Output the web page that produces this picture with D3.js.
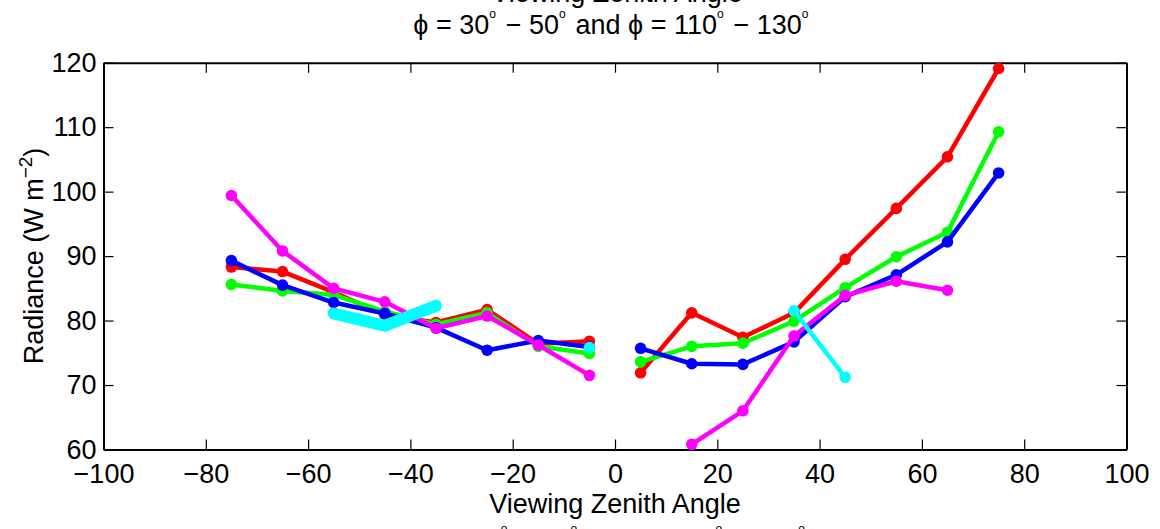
<!DOCTYPE html>
<html>
<head>
<meta charset="utf-8">
<script src="https://cdn.jsdelivr.net/npm/d3@7"></script>
<style>
  body { margin: 0; background: #fff; }
  svg { display: block; }
  text { font-family: "Liberation Sans", Arial, sans-serif; fill: #000; }
</style>
</head>
<body>
<svg id="chart" width="1160" height="529"></svg>
<script>
// Viewing zenith angle bins (degrees); negative = one azimuth sector, positive = the other
const angles = [-75, -65, -55, -45, -35, -25, -15, -5, 5, 15, 25, 35, 45, 55, 65, 75];

// Radiance (W m^-2) for each series, null where no data
const redSeries     = [88.3, 87.6, 84.4, 80.9, 79.7, 81.7, 76.4, 76.8, 71.9, 81.2, 77.4, 81.2, 89.5, 97.4, 105.4, 119.1];
const greenSeries   = [85.6, 84.6, 84.0, 81.4, 79.4, 81.2, 76.0, 74.9, 73.6, 76.0, 76.5, 79.9, 85.1, 89.9, 93.7, 109.3];
const blueSeries    = [89.3, 85.5, 82.8, 81.1, 78.9, 75.4, 76.9, 75.9, 75.7, 73.3, 73.2, 76.7, 83.7, 87.1, 92.2, 102.9];
const magentaSeries = [99.4, 90.8, 85.0, 82.9, 78.8, 80.7, 76.2, 71.5, null, 60.8, 66.0, 77.6, 83.9, 86.1, 84.7, null];
const cyanSeries    = [null, null, null, null, null, null, null, 75.8, null, null, null, 81.5, 71.2, null, null, null];
const cyanBand      = [null, null, 81.1, 79.2, 82.3, null, null, null, null, null, null, null, null, null, null, null];

const xTicks = [-100, -80, -60, -40, -20, 0, 20, 40, 60, 80, 100];
const yTicks = [60, 70, 80, 90, 100, 110, 120];

const svg = d3.select("#chart");
const FONT = 27;

const x = d3.scaleLinear().domain([-100, 100]).range([103.5, 1126.5]);
const y = d3.scaleLinear().domain([60, 120]).range([449.5, 62.7]);

const fmt = d => d3.format("d")(d).replace("-", "\u2212");

// Axes box with inward ticks on all four sides
const gB = svg.append("g").attr("transform", `translate(0,${y(60)})`)
  .call(d3.axisBottom(x).tickValues(xTicks).tickSizeInner(-10).tickSizeOuter(0).tickPadding(14).tickFormat(fmt));
const gT = svg.append("g").attr("transform", `translate(0,${y(120)})`)
  .call(d3.axisTop(x).tickValues(xTicks).tickSizeInner(-10).tickSizeOuter(0).tickFormat(""));
const gL = svg.append("g").attr("transform", `translate(${x(-100)},0)`)
  .call(d3.axisLeft(y).tickValues(yTicks).tickSizeInner(-10).tickSizeOuter(0).tickPadding(7).tickFormat(fmt));
const gR = svg.append("g").attr("transform", `translate(${x(100)},0)`)
  .call(d3.axisRight(y).tickValues(yTicks).tickSizeInner(-10).tickSizeOuter(0).tickFormat(""));

[gB, gT, gL, gR].forEach(g => {
  g.select(".domain").attr("stroke", "#000").attr("stroke-width", 2);
  g.selectAll(".tick line").attr("stroke", "#000").attr("stroke-width", 1.2);
  g.selectAll(".tick text").style("font-size", FONT + "px").attr("fill", "#000")
    .style("font-family", '"Liberation Sans", Arial, sans-serif');
  g.attr("font-size", null).attr("font-family", null);
});

// Data lines: each series is broken at nadir (left and right halves drawn separately)
const line = d3.line().defined(d => d.v != null).x(d => x(d.a)).y(d => y(d.v));
const plot = svg.append("g");

function drawSeries(values, color, width, markers) {
  const pts = angles.map((a, i) => ({ a, v: values[i] }));
  const halves = [pts.filter(p => p.a < 0), pts.filter(p => p.a > 0)];
  halves.forEach(h => {
    plot.append("path").datum(h).attr("d", line)
      .attr("fill", "none").attr("stroke", color).attr("stroke-width", width)
      .attr("stroke-linejoin", "round").attr("stroke-linecap", "round");
  });
  if (markers) {
    plot.append("g").selectAll("circle").data(pts.filter(p => p.v != null)).join("circle")
      .attr("cx", d => x(d.a)).attr("cy", d => y(d.v)).attr("r", 5.8).attr("fill", color);
  }
}

drawSeries(redSeries, "#ff0000", 4.5, true);
drawSeries(greenSeries, "#00ff00", 4.5, true);
drawSeries(blueSeries, "#0000ff", 4.5, true);
drawSeries(magentaSeries, "#ff00ff", 4.5, true);
drawSeries(cyanSeries, "#00ffff", 4.5, true);
drawSeries(cyanBand, "#00ffff", 12, false);

// Text with superscript "o" degree marks
function degreeText(parent, parts, xPos, yPos) {
  const t = parent.append("text").attr("x", xPos).attr("y", yPos)
    .attr("text-anchor", "middle").style("font-size", FONT + "px");
  parts.forEach(p => {
    if (p === "^o") {
      t.append("tspan").attr("dy", -16).style("font-size", "12px").text("o");
      t.append("tspan").attr("dy", 16).text("\u200A");
    } else {
      t.append("tspan").text(p);
    }
  });
  return t;
}

// Label of the panel above, title of this panel, and title of the panel below
svg.append("text").attr("x", 617).attr("y", 2).attr("text-anchor", "middle")
  .style("font-size", FONT + "px").text("Viewing Zenith Angle");
degreeText(svg, ["\u03D5 = 30", "^o", " \u2212 50", "^o", " and \u03D5 = 110", "^o", " \u2212 130", "^o"], 612, 34.3);
degreeText(svg, ["\u03D5 = 50", "^o", " \u2212 70", "^o", " and \u03D5 = 90", "^o", " \u2212 110", "^o"], 616, 549);

// Axis labels
svg.append("text").attr("x", 615).attr("y", 513).attr("text-anchor", "middle")
  .style("font-size", FONT + "px").text("Viewing Zenith Angle");

const yl = svg.append("text").attr("transform", `translate(43,256) rotate(-90)`)
  .attr("text-anchor", "middle").style("font-size", FONT + "px");
yl.append("tspan").text("Radiance (W m");
yl.append("tspan").attr("dy", -11).style("font-size", "19px").text("\u22122");
yl.append("tspan").attr("dy", 11).text(")");
</script>
</body>
</html>
